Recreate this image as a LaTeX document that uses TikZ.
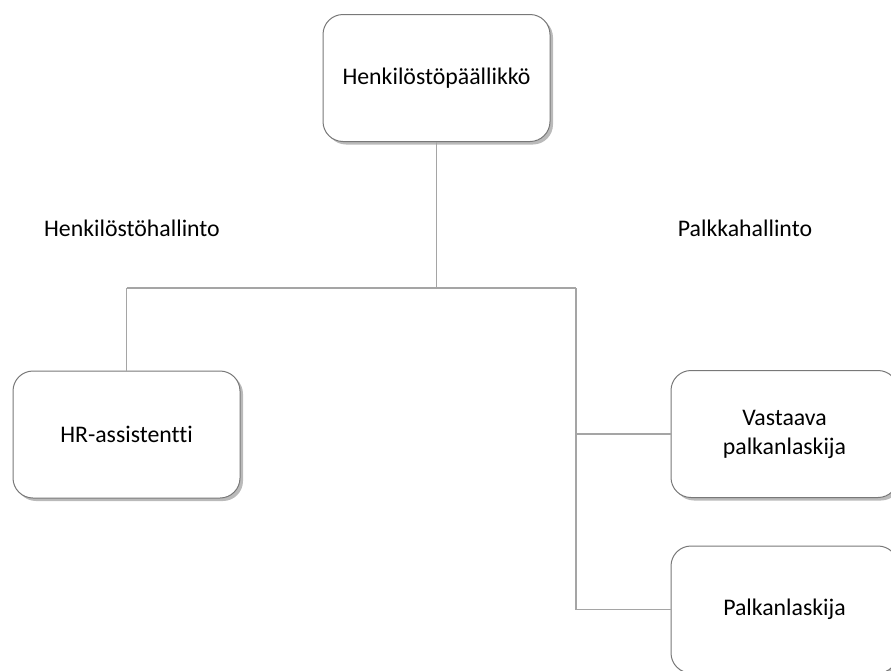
\documentclass[tikz,border=0pt]{standalone}
\usepackage{fontspec}
\setmainfont{Carlito}[Ligatures=NoCommon]
\usetikzlibrary{shadows,positioning}
\definecolor{linegray}{RGB}{165,165,165}
\definecolor{boxgray}{RGB}{120,120,120}
\begin{document}
\begin{tikzpicture}[x=1pt,y=-1pt,
  orgbox/.style={draw=boxgray, line width=1pt, fill=white, rounded corners=20pt,
    minimum width=227pt, minimum height=127pt, align=center, font=\fontsize{23.8}{29}\selectfont,
    drop shadow={shadow xshift=3pt, shadow yshift=-3pt, opacity=0.45, fill=black!60}},
  lbl/.style={font=\fontsize{23.8}{29}\selectfont},
  conn/.style={draw=linegray, line width=1.5pt}]
\useasboundingbox (0,0) rectangle (891,670);
\clip (0,0) rectangle (891,670);
\node[orgbox] (top) at (436.5,78) {Henkilöstöpäällikkö};
\node[orgbox] (hr) at (126.5,434.5) {HR-assistentti};
\node[orgbox] (vp) at (784.5,434) {Vastaava\\palkanlaskija};
\node[orgbox] (pl) at (784.5,609.5) {Palkanlaskija};
\node[lbl] (hh) at (132,228) {Henkilöstöhallinto};
\node[lbl] (ph) at (745,228) {Palkkahallinto};
\coordinate (mid) at (top.south |- 0,288);
\coordinate (lft) at (hr.north |- 0,288);
\coordinate (rgt) at (576,288);
\coordinate (rv) at (576,0);
\begin{scope}[on background layer/.try]
\draw[conn] (top.south) -- (mid);
\draw[conn] (lft) -- (rgt);
\draw[conn] (lft) -- (hr.north);
\draw[conn] (rgt) -- (rv |- pl.west) -- (pl.west);
\draw[conn] (rv |- vp.west) -- (vp.west);
\end{scope}
\end{tikzpicture}
\end{document}
